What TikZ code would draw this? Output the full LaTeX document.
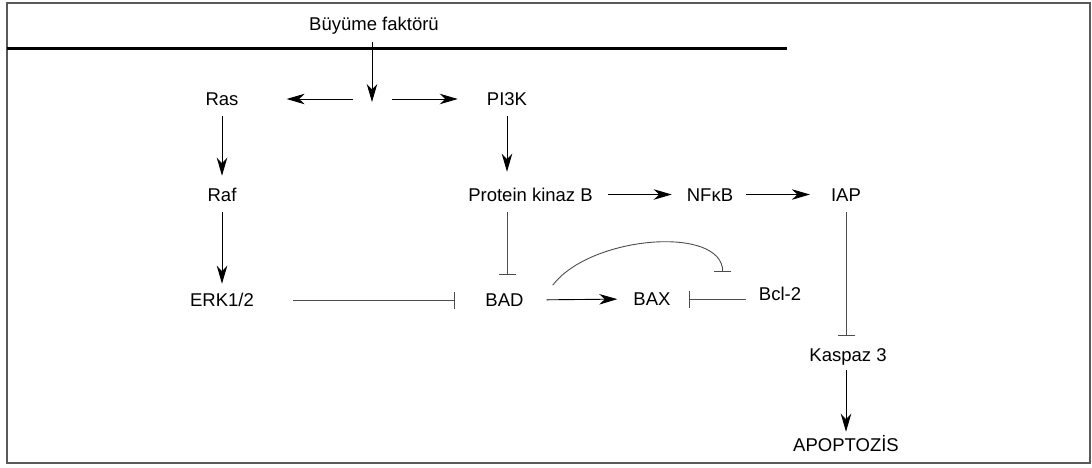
\documentclass[tikz,border=0pt]{standalone}
\usepackage{fontspec}
\setmainfont{Liberation Sans}
\usetikzlibrary{arrows.meta}

\begin{document}
\begin{tikzpicture}[x=1pt, y=-1pt,
  mol/.style={inner sep=3pt, text height=13.2pt, text depth=0pt,
    font=\fontsize{18.5}{21}\selectfont},
  act/.style={-{Stealth[length=18pt, width=10.5pt, inset=5.5pt]}, line width=0.9pt},
  inh/.style={-{Bar[width=17pt]}, line width=0.9pt, black!70},
]
  \useasboundingbox (0,0) rectangle (1092,467);
  \draw[black!65, line width=1.6pt] (7,3) rectangle (1090,463);

  % membrane
  \draw[line width=3pt] (7,48.5) -- (787,48.5);

  \node[mol] (gf) at (374,24) {Büyüme faktörü};
  \coordinate (split) at (372,102);

  \node[mol] (ras) at (222,99) {Ras};
  \node[mol] (raf) at (222,194.5) {Raf};
  \node[mol] (erk) at (222,300) {ERK1/2};

  \node[mol] (pi3k) at (507,99) {PI3K};
  \node[mol] (pkb) at (530.5,194.5) {Protein kinaz B};
  \node[mol] (nfkb) at (710,194.5) {NFκB};
  \node[mol] (iap) at (846,194.5) {IAP};

  \node[mol] (bad) at (504.5,300) {BAD};
  \node[mol] (bax) at (652,299) {BAX};
  \node[mol] (bcl) at (780,294) {Bcl-2};

  \node[mol] (casp) at (848,355) {Kaspaz 3};
  \node[mol] (apop) at (846,444.5) {APOPTOZİS};

  % growth factor signal
  \draw[act, shorten <=8pt] (gf.south -| split) -- (split);
  \draw[act, shorten <=19pt, shorten >=45pt] (ras -| split) -- (ras.east);
  \draw[act, shorten <=20pt, shorten >=26pt] (ras -| split) -- (pi3k.west);

  % MAPK branch
  \draw[act, shorten <=7pt, shorten >=9pt] (ras) -- (raf);
  \draw[act, shorten <=8pt, shorten >=6.5pt] (raf) -- (erk);
  \draw[inh, shorten <=36pt, shorten >=27pt] (erk.east) -- (bad.west);

  % PI3K branch
  \draw[act, shorten <=7.5pt, shorten >=13pt] (pi3k) -- (pi3k |- pkb.north);
  \draw[act, shorten <=12pt, shorten >=12pt] (pkb.east) -- (nfkb.west);
  \draw[act, shorten <=10pt, shorten >=18pt] (nfkb.east) -- (iap.west);
  \draw[inh, shorten <=8pt, shorten >=15pt] (pi3k |- pkb.south) -- (pi3k |- bad.north);

  % mitochondrial part
  \draw[act, shorten <=20pt, shorten >=13pt] (bad.east) -- (bax.west);
  \draw[inh, shorten <=10pt, shorten >=15pt] (bax -| bcl.west) -- (bax.east);
  \draw[inh] ([shift={(26pt,5pt)}]bad.north east) .. controls +(38pt,50pt)
    and +(0pt,47pt) .. ([shift={(-33pt,12pt)}]bcl.north west);

  % caspase
  \draw[inh, shorten <=8pt, shorten >=9pt] (iap) -- (iap |- casp.north);
  \draw[act, shorten <=5.5pt, shorten >=3pt] (iap |- casp.south) -- (apop);
\end{tikzpicture}
\end{document}
